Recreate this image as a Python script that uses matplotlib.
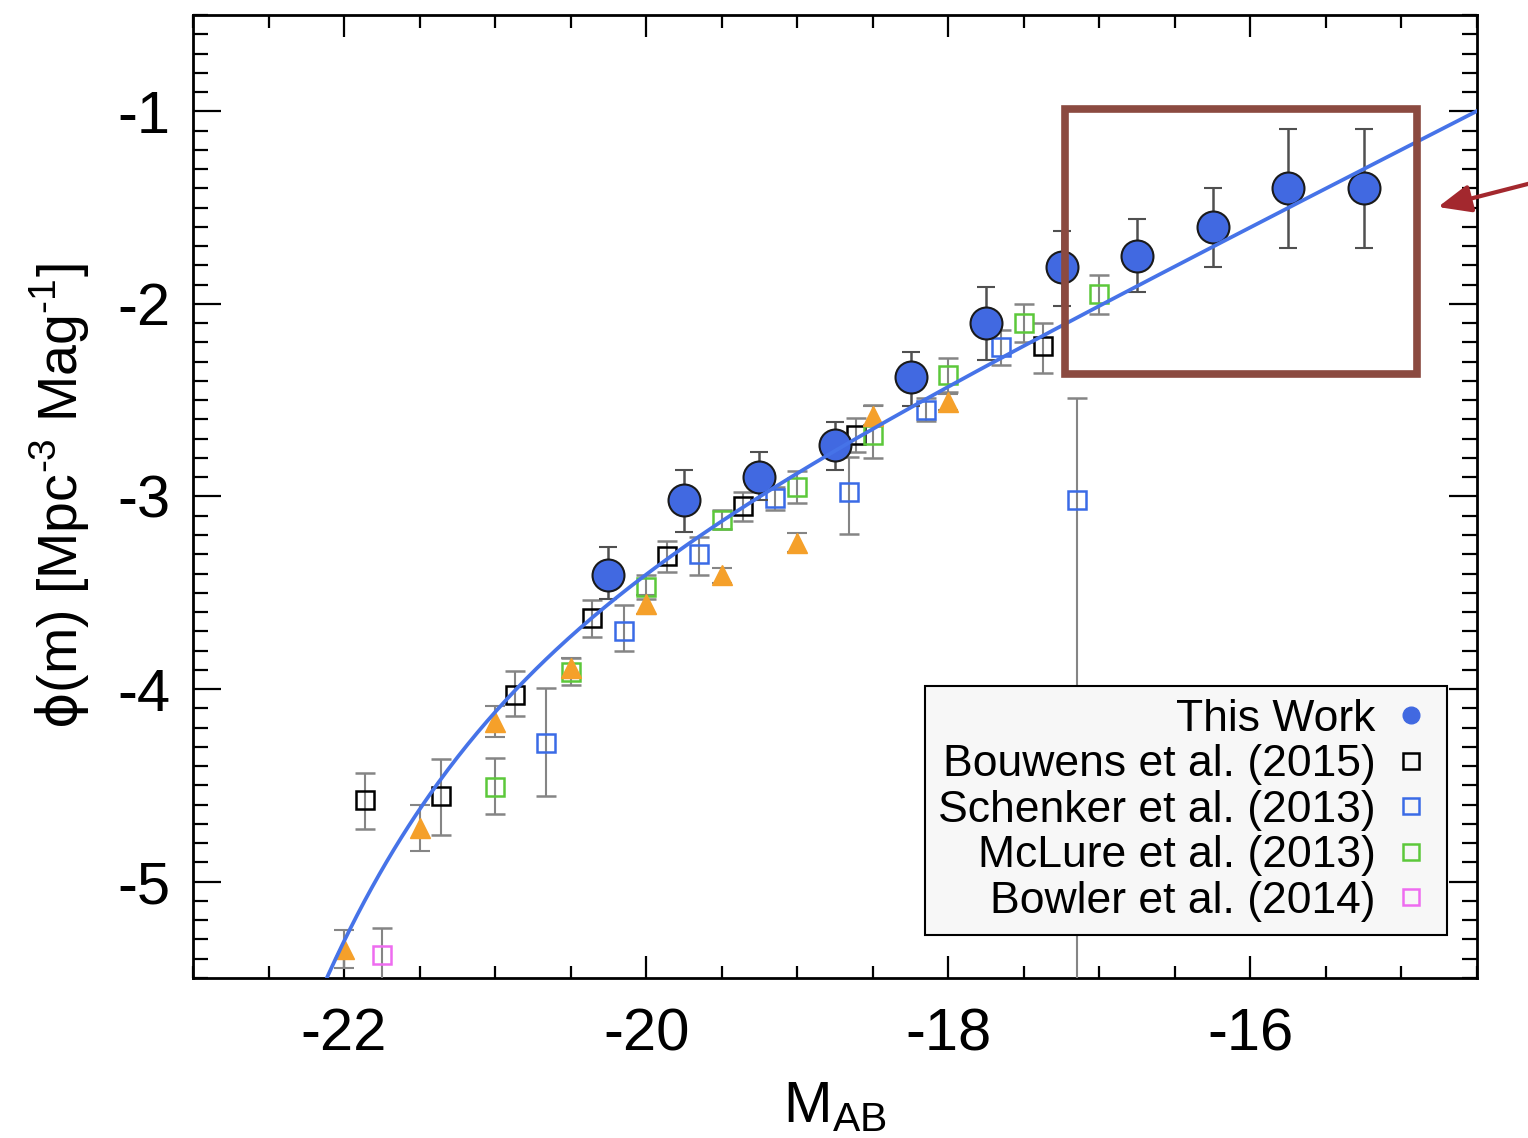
import numpy as np
import matplotlib
matplotlib.use("Agg")
import matplotlib.pyplot as plt
from matplotlib.lines import Line2D
from matplotlib.patches import Rectangle, FancyArrowPatch
from matplotlib.ticker import MultipleLocator, FormatStrFormatter

plt.rcParams['font.family'] = ['Liberation Sans', 'DejaVu Sans']
plt.rcParams['mathtext.fontset'] = 'custom'
plt.rcParams['mathtext.rm'] = 'Liberation Sans'
plt.rcParams['mathtext.it'] = 'DejaVu Sans'
plt.rcParams['mathtext.bf'] = 'Liberation Sans:bold'
plt.rcParams['axes.unicode_minus'] = False

# ---- data: UV luminosity function, log10 phi [Mpc^-3 mag^-1] vs M_AB ----
this_M = [-20.25, -19.75, -19.25, -18.75, -18.25, -17.75, -17.25, -16.75, -16.25, -15.75, -15.25]
this_phi = [-3.41, -3.02, -2.90, -2.735, -2.38, -2.10, -1.81, -1.75, -1.60, -1.40, -1.40]
this_up = [0.15, 0.16, 0.13, 0.12, 0.13, 0.19, 0.19, 0.19, 0.20, 0.31, 0.31]
this_dn = [0.12, 0.165, 0.12, 0.13, 0.15, 0.19, 0.20, 0.19, 0.21, 0.31, 0.31]

bouwens_M = [-21.86, -21.36, -20.87, -20.36, -19.86, -19.36, -18.61, -17.37]
bouwens_phi = [-4.575, -4.555, -4.03, -3.63, -3.31, -3.05, -2.68, -2.22]
bouwens_up = [0.14, 0.19, 0.125, 0.095, 0.08, 0.075, 0.09, 0.12]
bouwens_dn = [0.15, 0.20, 0.11, 0.10, 0.08, 0.075, 0.09, 0.14]

schenker_M = [-20.66, -20.15, -19.65, -19.15, -18.66, -18.15, -17.65, -17.15]
schenker_phi = [-4.28, -3.70, -3.30, -3.01, -2.975, -2.55, -2.225, -3.02]
schenker_up = [0.285, 0.135, 0.09, 0.06, 0.18, 0.06, 0.09, 0.53]
schenker_dn = [0.275, 0.10, 0.11, 0.06, 0.22, 0.06, 0.09, 3.0]

mclure_M = [-21.0, -20.5, -20.0, -19.5, -19.0, -18.5, -18.0, -17.5, -17.0]
mclure_phi = [-4.51, -3.91, -3.47, -3.12, -2.95, -2.68, -2.37, -2.10, -1.95]
mclure_up = [0.15, 0.07, 0.06, 0.05, 0.08, 0.155, 0.09, 0.10, 0.10]
mclure_dn = [0.14, 0.07, 0.06, 0.05, 0.085, 0.12, 0.09, 0.10, 0.10]

bowler_M = [-21.75]
bowler_phi = [-5.38]
bowler_up = [0.14]
bowler_dn = [0.30]

tri_M = [-22.0, -21.5, -21.0, -20.5, -20.0, -19.5, -19.0, -18.5, -18.0]
tri_phi = [-5.35, -4.72, -4.17, -3.89, -3.56, -3.41, -3.24, -2.58, -2.51]
tri_err = [0.10, 0.12, 0.08, 0.05, 0.05, 0.04, 0.05, 0.05, 0.04]

# Schechter fit parameters
phi_star = 3.3e-4
M_star = -20.8
alpha = -2.0

# ---- figure ----
fig = plt.figure(figsize=(15.28, 11.38), dpi=100)
ax = fig.add_axes([193 / 1528, 1 - 978 / 1138, (1477 - 193) / 1528, (978 - 15) / 1138])

grey = '#858585'
sq_kw = dict(fmt='s', markersize=13, markerfacecolor='none', markeredgewidth=1.8,
             ecolor=grey, elinewidth=1.5, capsize=7, capthick=1.5, zorder=3)

ax.errorbar(bouwens_M, bouwens_phi, yerr=[bouwens_dn, bouwens_up], markeredgecolor='black', **sq_kw)
ax.errorbar(schenker_M, schenker_phi, yerr=[schenker_dn, schenker_up], markeredgecolor='#3a6be6', **sq_kw)
ax.errorbar(mclure_M, mclure_phi, yerr=[mclure_dn, mclure_up], markeredgecolor='#5cc83a', **sq_kw)
ax.errorbar(bowler_M, bowler_phi, yerr=[bowler_dn, bowler_up], markeredgecolor='#ee6cf0', **sq_kw)
ax.errorbar(tri_M, tri_phi, yerr=tri_err, fmt='^', markersize=15, markerfacecolor='#f5a02a',
            markeredgecolor='#f5a02a', ecolor=grey, elinewidth=1.5, capsize=7, capthick=1.5, zorder=3)

ax.errorbar(this_M, this_phi, yerr=[this_dn, this_up], fmt='o', markersize=23,
            markerfacecolor='#4169e1', markeredgecolor='#1a1a1a', markeredgewidth=1.5,
            ecolor='#505050', elinewidth=1.8, capsize=6.5, capthick=1.8, zorder=4)

Mgrid = np.linspace(-22.4, -14.3, 500)
u = -0.4 * (Mgrid - M_star)
logphi = np.log10(0.4 * np.log(10) * phi_star) + (alpha + 1) * u - 10 ** u / np.log(10)
ax.plot(Mgrid, logphi, color='#4673e8', lw=2.7, zorder=5)

# highlighted faint-end region
ax.add_patch(Rectangle((-17.225, -2.365), 2.331, 1.378, fill=False,
                       edgecolor='#8b4a40', lw=5.5, zorder=6))

ax.set_xlim(-23.0, -14.5)
ax.set_ylim(-5.5, -0.5)
ax.xaxis.set_major_locator(MultipleLocator(2))
ax.xaxis.set_minor_locator(MultipleLocator(0.5))
ax.yaxis.set_major_locator(MultipleLocator(1))
ax.yaxis.set_minor_locator(MultipleLocator(0.1))
ax.xaxis.set_major_formatter(FormatStrFormatter('%d'))
ax.yaxis.set_major_formatter(FormatStrFormatter('%d'))

ax.tick_params(which='both', direction='in', top=True, right=True, width=1.6, colors='black')
ax.tick_params(axis='x', which='major', length=16, pad=21, labelsize=43)
ax.tick_params(axis='x', which='minor', length=9)
ax.tick_params(axis='y', which='major', length=20, pad=16, labelsize=43)
ax.tick_params(axis='y', which='minor', length=10.5)
for s in ax.spines.values():
    s.set_linewidth(2.0)

ax.set_xlabel(r'M$_{\rm AB}$', fontsize=42)
ax.xaxis.set_label_coords(0.5, -0.106)
ax.set_ylabel(r'$\phi$(m) [Mpc$^{\text{-3}}$ Mag$^{\text{-1}}$]', fontsize=40)
ax.yaxis.set_label_coords(-0.079, 0.5)

handles = [
    Line2D([], [], ls='none', marker='o', markersize=12, markerfacecolor='#4169e1', markeredgecolor='#4169e1'),
    Line2D([], [], ls='none', marker='s', markersize=12, markerfacecolor='none', markeredgecolor='black', markeredgewidth=1.8),
    Line2D([], [], ls='none', marker='s', markersize=12, markerfacecolor='none', markeredgecolor='#3a6be6', markeredgewidth=1.8),
    Line2D([], [], ls='none', marker='s', markersize=12, markerfacecolor='none', markeredgecolor='#5cc83a', markeredgewidth=1.8),
    Line2D([], [], ls='none', marker='s', markersize=12, markerfacecolor='none', markeredgecolor='#ee6cf0', markeredgewidth=1.8),
]
labels = ['This Work', 'Bouwens et al. (2015)', 'Schenker et al. (2013)',
          'McLure et al. (2013)', 'Bowler et al. (2014)']
leg = ax.legend(handles, labels, loc='lower right', bbox_to_anchor=(0.9766, 0.0447),
                borderaxespad=0, markerfirst=False, fontsize=32, frameon=True,
                fancybox=False, edgecolor='black', facecolor='#f7f7f7', framealpha=1,
                labelspacing=0.1, handlelength=1.0, handletextpad=0.3, borderpad=0.3)
leg.get_frame().set_linewidth(1.5)
leg.set_zorder(10)

# pointer arrow toward the boxed region
fig.add_artist(FancyArrowPatch(posA=(1.01, 1 - 180 / 1138), posB=(1438 / 1528, 1 - 207 / 1138),
                               transform=fig.transFigure, arrowstyle='-|>,head_length=0.4,head_width=0.17',
                               mutation_scale=50, color='#a3282e', lw=3, shrinkA=0, shrinkB=0))

fig.savefig('out.png', dpi=100)
